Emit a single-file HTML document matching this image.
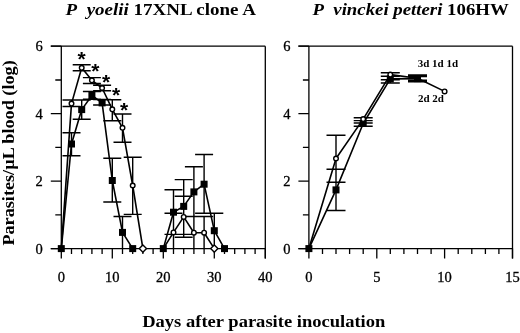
<!DOCTYPE html>
<html><head><meta charset="utf-8"><title>Parasitemia</title>
<style>
html,body{margin:0;padding:0;background:#fff;}
body{width:520px;height:333px;overflow:hidden;}
svg{display:block;will-change:transform;font-family:"Liberation Serif",serif;fill:#000;}
.ax{stroke:#000;stroke-width:1.3;fill:none;shape-rendering:auto;}
.ln{stroke:#000;stroke-width:1.6;fill:none;stroke-linejoin:round;}
.eb{stroke:#000;stroke-width:1.4;fill:none;}
.oc{stroke:#000;stroke-width:1.4;fill:#fff;}
.sq{fill:#000;stroke:none;}
.tk{font-size:14.5px;stroke:#000;stroke-width:0.3;}
.b{font-weight:bold;}
</style></head><body>
<svg width="520" height="333" viewBox="0 0 520 333">
<rect width="520" height="333" fill="#fff"/>

<path class="ax" d="M61.3 46.2V248.6 M50.8 46.2H265.3 M265.3 46.2V258.6 M50.8 248.6H265.3"/>
<path class="ax" d="M50.8 248.6H61.3 M55.3 214.9H61.3 M50.8 181.1H61.3 M55.3 147.4H61.3 M50.8 113.7H61.3 M55.3 80.0H61.3 M50.8 46.2H61.3 M61.3 248.6V258.6 M71.5 248.6V254.1 M81.7 248.6V254.1 M91.9 248.6V254.1 M102.1 248.6V254.1 M112.3 248.6V258.6 M122.5 248.6V254.1 M132.7 248.6V254.1 M142.9 248.6V254.1 M153.1 248.6V254.1 M163.3 248.6V258.6 M173.5 248.6V254.1 M183.7 248.6V254.1 M193.9 248.6V254.1 M204.1 248.6V254.1 M214.3 248.6V258.6 M224.5 248.6V254.1 M234.7 248.6V254.1 M244.9 248.6V254.1 M255.1 248.6V254.1 M265.3 248.6V258.6"/>
<text class="tk" x="42.8" y="253.6" text-anchor="end">0</text>
<text class="tk" x="42.8" y="186.1" text-anchor="end">2</text>
<text class="tk" x="42.8" y="118.7" text-anchor="end">4</text>
<text class="tk" x="42.8" y="51.2" text-anchor="end">6</text>
<text class="tk" x="61.3" y="281.8" text-anchor="middle">0</text>
<text class="tk" x="112.3" y="281.8" text-anchor="middle">10</text>
<text class="tk" x="163.3" y="281.8" text-anchor="middle">20</text>
<text class="tk" x="214.3" y="281.8" text-anchor="middle">30</text>
<text class="tk" x="265.3" y="281.8" text-anchor="middle">40</text>
<path class="ax" d="M308.9 46.2V248.6 M298.4 46.2H512.5 M512.5 46.2V258.6 M298.4 248.6H512.5"/>
<path class="ax" d="M298.4 248.6H308.9 M302.9 214.9H308.9 M298.4 181.1H308.9 M302.9 147.4H308.9 M298.4 113.7H308.9 M302.9 80.0H308.9 M298.4 46.2H308.9 M308.9 248.6V258.6 M322.5 248.6V254.1 M336.0 248.6V254.1 M349.6 248.6V254.1 M363.2 248.6V254.1 M376.8 248.6V258.6 M390.3 248.6V254.1 M403.9 248.6V254.1 M417.5 248.6V254.1 M431.1 248.6V254.1 M444.6 248.6V258.6 M458.2 248.6V254.1 M471.8 248.6V254.1 M485.4 248.6V254.1 M498.9 248.6V254.1 M512.5 248.6V258.6"/>
<text class="tk" x="290.4" y="253.6" text-anchor="end">0</text>
<text class="tk" x="290.4" y="186.1" text-anchor="end">2</text>
<text class="tk" x="290.4" y="118.7" text-anchor="end">4</text>
<text class="tk" x="290.4" y="51.2" text-anchor="end">6</text>
<text class="tk" x="308.9" y="281.8" text-anchor="middle">0</text>
<text class="tk" x="376.8" y="281.8" text-anchor="middle">5</text>
<text class="tk" x="444.6" y="281.8" text-anchor="middle">10</text>
<text class="tk" x="512.5" y="281.8" text-anchor="middle">15</text>
<path class="eb" d="M71.5 100.0V106.5 M62.5 100.0H80.5 M62.5 106.5H80.5 M81.7 64.7V70.8 M72.7 64.7H90.7 M72.7 70.8H90.7 M91.9 77.6V83.5 M82.9 77.6H100.9 M82.9 83.5H100.9 M102.1 85.3V90.8 M93.1 85.3H111.1 M93.1 90.8H111.1 M112.3 99.7V120.8 M103.3 99.7H121.3 M103.3 120.8H121.3 M122.5 114.0V142.3 M113.5 114.0H131.5 M113.5 142.3H131.5 M132.7 157.2V214.4 M123.7 157.2H141.7 M123.7 214.4H141.7 M71.5 132.8V155.7 M62.5 132.8H80.5 M62.5 155.7H80.5 M81.7 100.0V119.2 M72.7 100.0H90.7 M72.7 119.2H90.7 M91.9 91.5V99.2 M82.9 91.5H100.9 M82.9 99.2H100.9 M102.1 99.5V105.0 M93.1 99.5H111.1 M93.1 105.0H111.1 M112.3 158.2V202.0 M103.3 158.2H121.3 M103.3 202.0H121.3 M122.5 216.5V248.6 M113.5 216.5H131.5 M173.5 189.8V234.4 M164.5 189.8H182.5 M164.5 234.4H182.5 M183.7 179.6V234.4 M174.7 179.6H192.7 M174.7 234.4H192.7 M193.9 166.8V216.5 M184.9 166.8H202.9 M184.9 216.5H202.9 M204.1 154.5V213.3 M195.1 154.5H213.1 M195.1 213.3H213.1 M214.3 213.3V248.6 M205.3 213.3H223.3 M173.5 213.3V248.6 M164.5 213.3H182.5 M183.7 196.2V237.2 M174.7 196.2H192.7 M174.7 237.2H192.7 M193.9 216.5V248.6 M184.9 216.5H202.9 M204.1 216.5V248.6 M195.1 216.5H213.1"/>
<path class="ln" d="M61.3 248.6 L71.5 103.6 L81.7 67.8 L91.9 80.3 L102.1 88.0 L112.3 109.3 L122.5 127.8 L132.7 185.5 L142.9 248.6"/>
<path class="ln" d="M61.3 248.6 L71.5 144.0 L81.7 109.6 L91.9 95.5 L102.1 102.9 L112.3 180.5 L122.5 232.4 L132.7 248.6"/>
<path class="ln" d="M163.3 248.6 L173.5 212.2 L183.7 206.4 L193.9 191.9 L204.1 184.2 L214.3 230.7 L224.5 248.6"/>
<path class="ln" d="M163.3 248.6 L173.5 232.4 L183.7 216.9 L193.9 232.7 L204.1 232.7 L214.3 248.6"/>
<rect class="sq" x="57.8" y="245.1" width="7.0" height="7.0"/>
<rect class="sq" x="68.0" y="140.5" width="7.0" height="7.0"/>
<rect class="sq" x="78.2" y="106.1" width="7.0" height="7.0"/>
<rect class="sq" x="88.4" y="92.0" width="7.0" height="7.0"/>
<rect class="sq" x="98.6" y="99.4" width="7.0" height="7.0"/>
<rect class="sq" x="108.8" y="177.0" width="7.0" height="7.0"/>
<rect class="sq" x="119.0" y="228.9" width="7.0" height="7.0"/>
<rect class="sq" x="129.2" y="245.1" width="7.0" height="7.0"/>
<rect class="sq" x="159.8" y="245.1" width="7.0" height="7.0"/>
<rect class="sq" x="170.0" y="208.7" width="7.0" height="7.0"/>
<rect class="sq" x="180.2" y="202.9" width="7.0" height="7.0"/>
<rect class="sq" x="190.4" y="188.4" width="7.0" height="7.0"/>
<rect class="sq" x="200.6" y="180.7" width="7.0" height="7.0"/>
<rect class="sq" x="210.8" y="227.2" width="7.0" height="7.0"/>
<rect class="sq" x="221.0" y="245.1" width="7.0" height="7.0"/>
<circle class="oc" cx="71.5" cy="103.6" r="2.3"/>
<circle class="oc" cx="81.7" cy="67.8" r="2.3"/>
<circle class="oc" cx="91.9" cy="80.3" r="2.3"/>
<circle class="oc" cx="102.1" cy="88.0" r="2.3"/>
<circle class="oc" cx="112.3" cy="109.3" r="2.3"/>
<circle class="oc" cx="122.5" cy="127.8" r="2.3"/>
<circle class="oc" cx="132.7" cy="185.5" r="2.3"/>
<path class="oc" d="M139.3 248.6L142.9 245.0L146.5 248.6L142.9 252.2Z"/>
<circle class="oc" cx="173.5" cy="232.4" r="2.3"/>
<circle class="oc" cx="183.7" cy="216.9" r="2.3"/>
<circle class="oc" cx="193.9" cy="232.7" r="2.3"/>
<circle class="oc" cx="204.1" cy="232.7" r="2.3"/>
<path class="oc" d="M210.7 248.6L214.3 245.0L217.9 248.6L214.3 252.2Z"/>
<text class="b" font-family="Liberation Sans, sans-serif" font-size="21" x="81.5" y="65.8" text-anchor="middle">*</text>
<text class="b" font-family="Liberation Sans, sans-serif" font-size="21" x="95.3" y="78.4" text-anchor="middle">*</text>
<text class="b" font-family="Liberation Sans, sans-serif" font-size="21" x="106.2" y="88.8" text-anchor="middle">*</text>
<text class="b" font-family="Liberation Sans, sans-serif" font-size="21" x="116.2" y="102.2" text-anchor="middle">*</text>
<text class="b" font-family="Liberation Sans, sans-serif" font-size="21" x="124.2" y="117.0" text-anchor="middle">*</text>
<path class="eb" d="M336.0 135.2V182.3 M326.5 135.2H345.5 M326.5 182.3H345.5 M363.2 117.7V120.6 M353.7 117.7H372.7 M353.7 120.6H372.7 M390.3 72.7V76.2 M380.8 72.7H399.8 M380.8 76.2H399.8 M417.5 75.0V81.7 M408.0 75.0H427.0 M408.0 81.7H427.0 M336.0 169.2V210.5 M326.5 169.2H345.5 M326.5 210.5H345.5 M363.2 123.0V126.2 M353.7 123.0H372.7 M353.7 126.2H372.7 M390.3 79.8V83.0 M380.8 79.8H399.8 M380.8 83.0H399.8 M417.5 76.5V80.3 M408.0 76.5H427.0 M408.0 80.3H427.0"/>
<path class="ln" d="M308.9 248.6 L336.0 158.5 L363.2 119.1 L390.3 74.6 L417.5 78.3 L444.6 91.4"/>
<path class="ln" d="M308.9 248.6 L336.0 189.9 L363.2 123.5 L390.3 78.9 L417.5 78.6"/>
<rect class="sq" x="305.4" y="245.1" width="7.0" height="7.0"/>
<rect class="sq" x="332.5" y="186.4" width="7.0" height="7.0"/>
<rect class="sq" x="359.7" y="120.0" width="7.0" height="7.0"/>
<rect class="sq" x="386.8" y="75.4" width="7.0" height="7.0"/>
<rect class="sq" x="414.0" y="75.1" width="7.0" height="7.0"/>
<circle class="oc" cx="336.0" cy="158.5" r="2.3"/>
<circle class="oc" cx="363.2" cy="119.1" r="2.3"/>
<circle class="oc" cx="390.3" cy="74.6" r="2.3"/>
<circle class="oc" cx="444.6" cy="91.4" r="2.3"/>
<text class="b" font-size="11" x="417.7" y="67.3">3d 1d 1d</text>
<text class="b" font-size="11" x="418" y="101.5">2d 2d</text>
<text class="b" font-size="17.5" transform="translate(65.6 15.2) scale(1.085 1)" xml:space="preserve"><tspan font-style="italic">P&#160; yoelii</tspan> 17XNL clone A</text>
<text class="b" font-size="17.5" transform="translate(312.4 15.2) scale(1.075 1)" xml:space="preserve"><tspan font-style="italic">P&#160; vinckei petteri</tspan> 106HW</text>
<text class="b" font-size="17.5" transform="translate(142.2 327.3) scale(1.06 1)">Days after parasite inoculation</text>
<text class="b" font-size="17.5" transform="translate(14.4 245.6) rotate(-90) scale(1.04 1)">Parasites/µL blood (log)</text>
</svg>
</body></html>
